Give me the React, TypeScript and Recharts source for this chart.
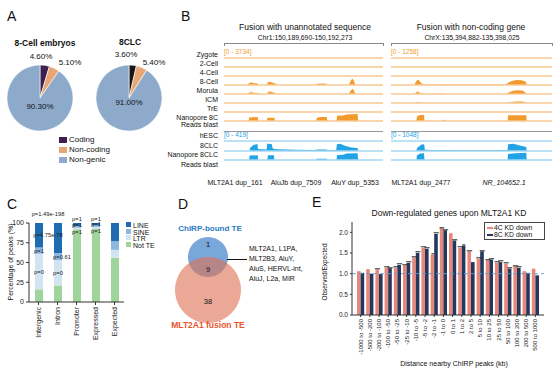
import React from 'react';
import {
  PieChart, Pie, Cell, AreaChart, Area, ComposedChart, BarChart, Bar, XAxis, YAxis,
  ReferenceLine, ReferenceArea, ReferenceDot, LabelList,
} from 'recharts';

const FONT = 'Arial, "Liberation Sans", Helvetica, sans-serif';

// ---------- A: where the fusion transcripts land
const PIE_GROUPS = ['Coding', 'Non-coding', 'Non-genic'];
const PIE_8CELL = [4.6, 5.1, 90.3];
const PIE_8CLC = [3.6, 5.4, 91.0];

// ---------- B: coverage tracks, [position 0-100, relative height]
const TRACKS_EMBRYO = ['Zygote', '2-Cell', '4-Cell', '8-Cell', 'Morula', 'ICM', 'TrE', 'Nanopore 8C', 'Reads blast'];
const TRACKS_CLC = ['hESC', '8CLC', 'Nanopore 8CLC', 'Reads blast'];
const FLAT: [number, number][] = [[0, 0], [100, 0]];

const UA_8CELL: [number, number][] = [[0, 0], [15, 0], [15.8, 0.25], [17, 0.32], [19, 0.22], [21.3, 0.18], [21.8, 0], [27, 0], [27.6, 0.38], [29, 0.4], [31, 0.25], [32.5, 0.2], [33, 0], [57.5, 0], [58.5, 0.15], [62, 0.2], [64.5, 0.15], [65, 0], [78.5, 0], [79.8, 0.55], [80.8, 0.8], [81.8, 0.5], [82.6, 0], [100, 0]];
const UA_MORULA: [number, number][] = [[0, 0], [15, 0], [15.8, 0.18], [17, 0.22], [19, 0.15], [21.3, 0.12], [21.8, 0], [27, 0], [27.6, 0.25], [29, 0.3], [31, 0.18], [32.5, 0.12], [33, 0], [78.5, 0], [79.8, 0.45], [80.8, 0.65], [81.8, 0.4], [82.6, 0], [100, 0]];
const UA_NANO8C: [number, number][] = [[0, 0], [15.5, 0], [15.8, 0.45], [21.2, 0.5], [21.5, 0], [27, 0], [27.3, 0.42], [31.7, 0.4], [32, 0], [58, 0], [58.4, 0.4], [61, 0.5], [64.6, 0.5], [65, 0], [70.8, 0], [71.1, 0.65], [75, 0.68], [77, 0.82], [84, 0.88], [84.4, 0], [100, 0]];
const UA_8CLC: [number, number][] = [[0, 0], [16, 0], [16.5, 0.4], [18.5, 0.75], [21, 0.88], [21.4, 0.25], [26.8, 0.2], [27.2, 0.92], [30, 0.88], [30.6, 0.3], [33, 0.22], [45, 0.16], [57, 0.12], [59, 0.2], [64, 0.18], [66, 0.1], [70.6, 0.12], [71, 0.85], [73, 0.9], [76, 0.65], [80, 0.45], [84, 0.38], [84.4, 0], [100, 0]];
const UA_NANO8CLC: [number, number][] = [[0, 0], [15.8, 0], [16.1, 0.55], [21.2, 0.6], [21.5, 0], [27.3, 0], [27.6, 0.6], [31.4, 0.58], [31.7, 0], [58, 0], [58.4, 0.15], [64.6, 0.15], [65, 0], [70.8, 0], [71.1, 0.62], [75, 0.65], [77, 0.8], [84, 0.85], [84.4, 0], [100, 0]];
const UA_EXONS: [number, number][] = [[16.4, 21.4], [27.7, 30.8], [71, 84.3]];
const UA_TE: [number, number][] = [[8.8, 23.9], [27, 37.7], [71, 82.4]];
const UA_TE_NAMES = ['MLT2A1 dup_161', 'AluJb dup_7509', 'AluY dup_5353'];

const NC_8CELL: [number, number][] = [[0, 0], [14.5, 0], [15.2, 0.3], [16.2, 0.6], [17.2, 0.65], [18.2, 0.35], [19.5, 0.12], [21, 0.05], [31.5, 0.05], [32.3, 0.14], [33, 0.05], [71.5, 0.05], [72.5, 0.25], [75, 0.5], [78, 0.62], [81, 0.6], [83.5, 0.45], [84.5, 0], [100, 0]];
const NC_MORULA: [number, number][] = [[0, 0], [14.5, 0], [15.5, 0.18], [16.5, 0.32], [17.5, 0.2], [19, 0.05], [21, 0], [32, 0.06], [33, 0], [72, 0], [73, 0.2], [76, 0.42], [79, 0.48], [82, 0.42], [84.5, 0], [100, 0]];
const NC_ICM: [number, number][] = [[0, 0], [15, 0], [16.5, 0.12], [18, 0.05], [21, 0], [72, 0], [74, 0.12], [78, 0.2], [82, 0.18], [84.5, 0], [100, 0]];
const NC_NANO8C: [number, number][] = [[0, 0], [15.8, 0], [16.1, 0.55], [18, 0.75], [20.5, 0.75], [20.8, 0], [31.8, 0], [32, 0.15], [33.4, 0.12], [33.6, 0], [72.4, 0], [72.7, 0.72], [84, 0.72], [84.3, 0], [100, 0]];
const NC_8CLC: [number, number][] = [[0, 0], [15.5, 0], [16.5, 0.45], [19, 0.8], [20.6, 0.85], [21, 0.15], [30, 0.1], [32.3, 0.14], [45, 0.1], [60, 0.1], [72.4, 0.12], [72.8, 0.85], [76, 0.9], [80, 0.7], [84, 0.5], [84.3, 0], [100, 0]];
const NC_NANO8CLC: [number, number][] = [[0, 0], [15.8, 0], [16.1, 0.55], [18, 0.82], [20.5, 0.85], [20.8, 0], [72.4, 0], [72.7, 0.75], [77, 0.85], [84, 0.9], [84.3, 0], [100, 0]];
const NC_EXONS: [number, number][] = [[16.8, 20.5], [72.7, 84]];
const NC_TE: [number, number][] = [[10, 21]];
const NR_EXONS: [number, number][] = [[46.6, 47.6], [72.7, 84]];

// ---------- C: TE content of peaks
const C_CATS = ['Intergenic', 'Intron', 'Promoter', 'Expressed', 'Expected'];
const C_NOT_TE = [16, 21, 92, 93, 56];
const C_LTR = [45, 32, 2, 2, 10];
const C_SINE = [8, 9, 2, 2, 11];
const C_LINE = [31, 38, 4, 3, 23];
const C_P_LTR = ['p=0', 'p=0', 'p=1', 'p=1', ''];
const C_P_SINE = ['p=1', 'p=0.61', 'p=1', 'p=1', ''];
const C_P_LINE = ['p=4.75e-78', 'p=1.49e-198', 'p=1', 'p=1', ''];

// ---------- D: venn
const VENN_CHIRP_ONLY = 1;
const VENN_BOTH = 9;
const VENN_FUSION_ONLY = 38;
const VENN_SHARED = ['MLT2A1, L1PA,', 'MLT2B3, AluY,', 'AluS, HERVL-int,', 'AluJ, L2a, MIR'];

// ---------- E: enrichment of down-regulated genes
const E_BINS = ['-1000 to -500', '-500 to -200', '-200 to -100', '-100 to -50', '-50 to -25', '-25 to -10', '-10 to -5', '-5 to -2', '-2 to -1', '-1 to 0', '0 to 1', '1 to 2', '2 to 5', '5 to 10', '10 to 25', '25 to 50', '50 to 100', '100 to 200', '200 to 500', '500 to 1000'];
const E_4C = [1.06, 1.11, 1.10, 1.14, 1.14, 1.20, 1.39, 1.62, 1.46, 2.10, 1.98, 1.62, 1.54, 1.36, 1.32, 1.26, 1.24, 1.18, 1.06, 1.12];
const E_8C = [1.02, 1.00, 0.99, 1.13, 1.21, 1.26, 1.50, 1.60, 1.96, 2.05, 1.80, 1.68, 1.28, 1.54, 1.34, 1.28, 1.12, 1.14, 1.02, 0.96];
const E_SIG_4C = ['', '', '****', '****', '****', '****', '****', '****', '**', '****', '', '****', '****', '****', '****', '****', '****', '****', '', ''];
const E_SIG_8C = ['', '', '', '****', '****', '****', '****', '****', '****', '****', '****', '**', '', '****', '****', '****', '****', '****', '', ''];

const ORANGE = '#f39a2c';
const ORANGE_BASE = '#f8c994';
const BLUE = '#22a3e6';
const BLUE_BASE = '#a3d7f3';

function Txt({ x, y, size = 7, anchor = 'middle', bold = false, italic = false, color = '#111', rotate = 0, children }: any) {
  const tx = anchor === 'middle' ? '-50%' : anchor === 'end' ? '-100%' : '0%';
  return (
    <div style={{
      position: 'absolute', left: x, top: y, fontFamily: FONT, fontSize: size, lineHeight: 1,
      fontWeight: bold ? 700 : 400, fontStyle: italic ? 'italic' : 'normal', color, whiteSpace: 'nowrap',
      transform: `translate(${tx}, -50%)${rotate ? ` rotate(${rotate}deg)` : ''}`,
    }}>{children}</div>
  );
}

function MiniPie({ values, colors, left, top }: any) {
  const data = PIE_GROUPS.map((name, i) => ({ name, value: values[i] }));
  return (
    <div style={{ position: 'absolute', left, top }}>
      <PieChart width={80} height={80} margin={{ top: 0, right: 0, bottom: 0, left: 0 }}>
        <Pie data={data} dataKey="value" cx={40} cy={40} outerRadius={33} startAngle={90} endAngle={-270}
          stroke="#fff" strokeWidth={0.6} isAnimationActive={false}>
          {data.map((d, i) => <Cell key={d.name} fill={colors[i]} />)}
        </Pie>
      </PieChart>
    </div>
  );
}

function Coverage({ points, fill, base, width, left, top }: any) {
  const data = points.map(([pos, h]: [number, number]) => ({ pos, h }));
  return (
    <div style={{ position: 'absolute', left, top }}>
      <AreaChart width={width} height={9} data={data} margin={{ top: 0, right: 0, bottom: 1, left: 0 }}>
        <XAxis type="number" dataKey="pos" domain={[0, 100]} hide />
        <YAxis type="number" domain={[0, 1]} hide />
        <ReferenceLine y={0} stroke={base} strokeWidth={1.5} />
        <Area type="linear" dataKey="h" stroke="none" fill={fill} fillOpacity={1} isAnimationActive={false} />
      </AreaChart>
    </div>
  );
}

const Chevron = (p: any) => (
  <path d={`M${p.cx - 0.9},${p.cy - 1.3}L${p.cx + 0.6},${p.cy}L${p.cx - 0.9},${p.cy + 1.3}`} stroke="#000" strokeWidth={0.6} fill="none" />
);

function GeneModel({ exons, width, left, top, height = 7, thick = 0.8, arrows = true, line = true }: any) {
  const start = exons[0][0];
  const end = exons[exons.length - 1][1];
  const chevrons: number[] = [];
  if (arrows) {
    for (let i = 0; i < exons.length - 1; i++) {
      for (let p = exons[i][1] + 3; p < exons[i + 1][0] - 1.5; p += 5) chevrons.push(p);
    }
  }
  const pad = (1 - thick) / 2;
  return (
    <div style={{ position: 'absolute', left, top }}>
      <ComposedChart width={width} height={height} data={[{ pos: 0 }, { pos: 100 }]} margin={{ top: 0, right: 0, bottom: 0, left: 0 }}>
        <XAxis type="number" dataKey="pos" domain={[0, 100]} hide />
        <YAxis type="number" domain={[0, 1]} hide />
        {line && exons.length > 1 && <ReferenceLine segment={[{ x: start, y: 0.5 }, { x: end, y: 0.5 }]} stroke="#000" strokeWidth={0.7} />}
        {chevrons.map(p => <ReferenceDot key={p} x={p} y={0.5} r={1} shape={Chevron} />)}
        {exons.map(([a, b]: [number, number]) => (
          <ReferenceArea key={a} x1={a} x2={b} y1={pad} y2={1 - pad} fill="#000" fillOpacity={1} stroke="none" />
        ))}
      </ComposedChart>
    </div>
  );
}

function GenomePanel({ left, width, range8, rangeClc, tracks8, tracksClc, exons }: any) {
  return (
    <>
      <div style={{ position: 'absolute', left, top: 43, width: width - 1, height: 2, borderTop: '1px solid #888', borderLeft: '1px solid #888', borderRight: '1px solid #888' }} />
      {tracks8.map((pts: any, i: number) => (
        <Coverage key={'o' + i} points={pts} fill={ORANGE} base={ORANGE_BASE} width={width} left={left} top={50 + 9 * i} />
      ))}
      <GeneModel exons={exons} width={width} left={left} top={123} />
      <div style={{ position: 'absolute', left, top: 131, width, height: 1, background: '#999' }} />
      {tracksClc.map((pts: any, i: number) => (
        <Coverage key={'b' + i} points={pts} fill={BLUE} base={BLUE_BASE} width={width} left={left} top={133 + 9.5 * i} />
      ))}
      <GeneModel exons={exons} width={width} left={left} top={161} />
      <Txt x={left} y={52} size={6.5} anchor="start" color={ORANGE}>{range8}</Txt>
      <Txt x={left} y={135} size={6.5} anchor="start" color={BLUE}>{rangeClc}</Txt>
    </>
  );
}

// p-value label on a stacked segment; tiny segments get their labels fanned out
const pLabel = (series: 'ltr' | 'sine' | 'line') => (props: any) => {
  const { x, y, width, height, value } = props;
  if (!value) return null;
  let cx = x + width / 2;
  let cy = y + height / 2;
  if (height < 6) {
    if (series === 'line') cy = y - 4;
    if (series === 'sine') cy = y + height / 2 - 2;
    if (series === 'ltr') cy = y + height + 2.5;
  }
  if (value === 'p=4.75e-78') cx += 9;
  if (value === 'p=1.49e-198') { cx -= 10; cy = y - 9; }
  if (value === 'p=0.61') cx += 4;
  return <text x={cx} y={cy} textAnchor="middle" dominantBaseline="central" fontSize={5.8} fontFamily={FONT} fill="#222">{value}</text>;
};

const StarLabel = (props: any) => {
  const { x, y, width, value } = props;
  if (!value) return null;
  return <text x={x + width / 2} y={y + 1.3} textAnchor="middle" fontSize={4.2} letterSpacing={-0.4} fontWeight={700} fontFamily={FONT} fill="#111">{value}</text>;
};

const RotTick = (size: number) => (props: any) => {
  const { x, y, payload } = props;
  return (
    <text x={x} y={y} transform={`rotate(-90, ${x}, ${y})`} textAnchor="end" dominantBaseline="central" fontSize={size} fontFamily={FONT} fill="#222">
      {payload.value}
    </text>
  );
};

export default function App() {
  const cData = C_CATS.map((cat, i) => ({
    cat, notTe: C_NOT_TE[i], ltr: C_LTR[i], sine: C_SINE[i], line: C_LINE[i],
    pLtr: C_P_LTR[i], pSine: C_P_SINE[i], pLine: C_P_LINE[i],
  }));
  const eData = E_BINS.map((bin, i) => ({ bin, kd4: E_4C[i], kd8: E_8C[i], s4: E_SIG_4C[i], s8: E_SIG_8C[i] }));
  const axisStroke = '#333';
  const tickStyle = { fontSize: 7, fill: '#222', fontFamily: FONT };
  const pieColors8 = ['#3d2050', '#e8a674', '#8eaacb'];

  return (
    <div style={{ position: 'absolute', left: 0, top: 0, width: 553, height: 375, background: '#fff', overflow: 'hidden', fontFamily: FONT }}>
      {/* ---------- A ---------- */}
      <Txt x={7} y={16} size={14} anchor="start">A</Txt>
      <Txt x={45} y={43} size={8.5} bold>8-Cell embryos</Txt>
      <Txt x={130} y={42} size={8.5} bold>8CLC</Txt>
      <MiniPie values={PIE_8CELL} colors={pieColors8} left={0} top={58} />
      <MiniPie values={PIE_8CLC} colors={['#161616', '#e8a674', '#8eaacb']} left={89} top={58} />
      <Txt x={41} y={57} size={8}>{PIE_8CELL[0].toFixed(2)}%</Txt>
      <Txt x={70} y={63} size={8}>{PIE_8CELL[1].toFixed(2)}%</Txt>
      <Txt x={40} y={107} size={8}>{PIE_8CELL[2].toFixed(2)}%</Txt>
      <Txt x={126} y={55} size={8}>{PIE_8CLC[0].toFixed(2)}%</Txt>
      <Txt x={154} y={63} size={8}>{PIE_8CLC[1].toFixed(2)}%</Txt>
      <Txt x={129} y={103} size={8}>{PIE_8CLC[2].toFixed(2)}%</Txt>
      {PIE_GROUPS.map((g, i) => (
        <React.Fragment key={g}>
          <div style={{ position: 'absolute', left: 59, top: 137 + 10 * i, width: 8, height: 6, background: pieColors8[i] }} />
          <Txt x={69} y={140 + 10 * i} size={8} anchor="start">{g}</Txt>
        </React.Fragment>
      ))}

      {/* ---------- B ---------- */}
      <Txt x={181} y={16} size={14} anchor="start">B</Txt>
      <Txt x={305} y={27} size={8.5}>Fusion with unannotated sequence</Txt>
      <Txt x={305} y={38} size={6.8}>Chr1:150,189,690-150,192,273</Txt>
      <Txt x={471} y={27} size={8.5}>Fusion with non-coding gene</Txt>
      <Txt x={472} y={38} size={6.8}>ChrX:135,394,882-135,398,025</Txt>
      {TRACKS_EMBRYO.map((t, i) => (
        <Txt key={t + i} x={218} y={i < 8 ? 53.5 + 9 * i : 124} size={7} anchor="end">{t}</Txt>
      ))}
      {TRACKS_CLC.map((t, i) => (
        <Txt key={t + i} x={218} y={i < 3 ? 135 + 9.5 * i : 164} size={7} anchor="end">{t}</Txt>
      ))}
      <GenomePanel left={224} width={159} range8="[0 - 3734]" rangeClc="[0 - 419]" exons={UA_EXONS}
        tracks8={[FLAT, FLAT, FLAT, UA_8CELL, UA_MORULA, FLAT, FLAT, UA_NANO8C]}
        tracksClc={[FLAT, UA_8CLC, UA_NANO8CLC]} />
      <GenomePanel left={391} width={161} range8="[0 - 1258]" rangeClc="[0 - 1048]" exons={NC_EXONS}
        tracks8={[FLAT, FLAT, FLAT, NC_8CELL, NC_MORULA, NC_ICM, FLAT, NC_NANO8C]}
        tracksClc={[FLAT, NC_8CLC, NC_NANO8CLC]} />
      <GeneModel exons={UA_TE} width={159} left={224} top={170} height={6} thick={0.6} arrows={false} line={false} />
      <GeneModel exons={NC_TE} width={161} left={391} top={170} height={6} thick={0.6} arrows={false} line={false} />
      <GeneModel exons={NR_EXONS} width={161} left={391} top={170} height={6} />
      <Txt x={235} y={182} size={7}>{UA_TE_NAMES[0]}</Txt>
      <Txt x={296} y={182} size={7}>{UA_TE_NAMES[1]}</Txt>
      <Txt x={355} y={182} size={7}>{UA_TE_NAMES[2]}</Txt>
      <Txt x={421} y={182} size={7}>MLT2A1 dup_2477</Txt>
      <Txt x={504} y={182} size={7} italic>NR_104652.1</Txt>

      {/* ---------- C ---------- */}
      <Txt x={7} y={204} size={14} anchor="start">C</Txt>
      <Txt x={10} y={262} size={7} rotate={-90}>Percentage of peaks (%)</Txt>
      <div style={{ position: 'absolute', left: 0, top: 205 }}>
        <BarChart width={170} height={150} data={cData} margin={{ top: 18, right: 46, bottom: 0, left: 5 }} barSize={8}>
          <XAxis dataKey="cat" height={53} interval={0} stroke={axisStroke} tickSize={3} tick={RotTick(7)} />
          <YAxis type="number" domain={[0, 100]} ticks={[0, 25, 50, 75, 100]} width={24} stroke={axisStroke} tickSize={3} tick={tickStyle} />
          <Bar dataKey="notTe" stackId="s" fill="#9fd49a" isAnimationActive={false} />
          <Bar dataKey="ltr" stackId="s" fill="#d2e3f2" isAnimationActive={false}>
            <LabelList dataKey="pLtr" content={pLabel('ltr')} />
          </Bar>
          <Bar dataKey="sine" stackId="s" fill="#8db7de" isAnimationActive={false}>
            <LabelList dataKey="pSine" content={pLabel('sine')} />
          </Bar>
          <Bar dataKey="line" stackId="s" fill="#1f6cb3" isAnimationActive={false}>
            <LabelList dataKey="pLine" content={pLabel('line')} />
          </Bar>
        </BarChart>
      </div>
      {[['LINE', '#1f6cb3'], ['SINE', '#8db7de'], ['LTR', '#d2e3f2'], ['Not TE', '#9fd49a']].map(([n, c], i) => (
        <React.Fragment key={n}>
          <div style={{ position: 'absolute', left: 126, top: 222 + 6.7 * i, width: 5, height: 5, background: c }} />
          <Txt x={133} y={225 + 6.7 * i} size={7} anchor="start">{n}</Txt>
        </React.Fragment>
      ))}

      {/* ---------- D ---------- */}
      <Txt x={178} y={204} size={14} anchor="start">D</Txt>
      <Txt x={210} y={229} size={8} bold color="#2b7cc2">ChIRP-bound TE</Txt>
      <div style={{ position: 'absolute', left: 170, top: 230 }}>
        <PieChart width={80} height={100} margin={{ top: 0, right: 0, bottom: 0, left: 0 }}>
          <Pie data={[{ v: VENN_CHIRP_ONLY + VENN_BOTH }]} dataKey="v" cx={38} cy={27} outerRadius={20}
            startAngle={90} endAngle={-270} stroke="none" isAnimationActive={false}>
            <Cell fill="#7aa7da" />
          </Pie>
          <Pie data={[{ v: VENN_FUSION_ONLY + VENN_BOTH }]} dataKey="v" cx={38} cy={60} outerRadius={33}
            startAngle={90} endAngle={-270} stroke="none" isAnimationActive={false}>
            <Cell fill="#de6e50" fillOpacity={0.6} />
          </Pie>
        </PieChart>
      </div>
      <Txt x={208} y={245} size={7.5}>{VENN_CHIRP_ONLY}</Txt>
      <Txt x={208} y={270} size={7.5}>{VENN_BOTH}</Txt>
      <Txt x={208} y={302} size={7.5}>{VENN_FUSION_ONLY}</Txt>
      <div style={{ position: 'absolute', left: 227, top: 259, width: 20, height: 1, background: '#111' }} />
      {VENN_SHARED.map((l, i) => (
        <Txt key={l} x={249} y={248 + 10 * i} size={7} anchor="start">{l}</Txt>
      ))}
      <Txt x={208} y={325} size={8.5} bold color="#e8532a">MLT2A1 fusion TE</Txt>

      {/* ---------- E ---------- */}
      <Txt x={312} y={202} size={14} anchor="start">E</Txt>
      <Txt x={449} y={213} size={8.5}>Down-regulated genes upon MLT2A1 KD</Txt>
      <Txt x={325} y={272} size={6.5} rotate={-90}>Observed/Expected</Txt>
      <div style={{ position: 'absolute', left: 320, top: 210 }}>
        <BarChart width={233} height={160} data={eData} margin={{ top: 12, right: 9, bottom: 0, left: 4 }} barGap={0} barSize={3.6}>
          <XAxis dataKey="bin" height={55} interval={0} stroke={axisStroke} tickSize={2} padding={{ left: 4, right: 4 }} tick={RotTick(6)} />
          <XAxis xAxisId="top" orientation="top" dataKey="bin" height={0} stroke={axisStroke} tick={false} tickLine={false} />
          <YAxis type="number" domain={[0, 2.25]} ticks={[0, 0.5, 1, 1.5, 2]} tickFormatter={(v: number) => v.toFixed(1)}
            width={28} stroke={axisStroke} tickSize={2} tick={{ ...tickStyle, fontSize: 6.5 }} allowDataOverflow />
          <YAxis yAxisId="right" orientation="right" width={0} stroke={axisStroke} tick={false} tickLine={false} />
          <ReferenceLine y={1} stroke="#5d9fd8" strokeDasharray="4 3" strokeWidth={0.9} />
          <Bar dataKey="kd4" fill="#e8877c" isAnimationActive={false}>
            <LabelList dataKey="s4" content={StarLabel} />
          </Bar>
          <Bar dataKey="kd8" fill="#25385c" isAnimationActive={false}>
            <LabelList dataKey="s8" content={StarLabel} />
          </Bar>
        </BarChart>
      </div>
      <div style={{ position: 'absolute', left: 484, top: 222, width: 59, height: 16, border: '0.8px solid #444', background: '#fff' }} />
      {[['4C KD down', '#e8877c'], ['8C KD down', '#25385c']].map(([n, c], i) => (
        <React.Fragment key={n}>
          <div style={{ position: 'absolute', left: 487, top: 226.5 + 7 * i, width: 6, height: 2.2, background: c }} />
          <Txt x={494} y={227.5 + 7 * i} size={6.8} anchor="start">{n}</Txt>
        </React.Fragment>
      ))}
      <Txt x={454} y={363} size={7}>Distance nearby ChIRP peaks (kb)</Txt>
    </div>
  );
}
